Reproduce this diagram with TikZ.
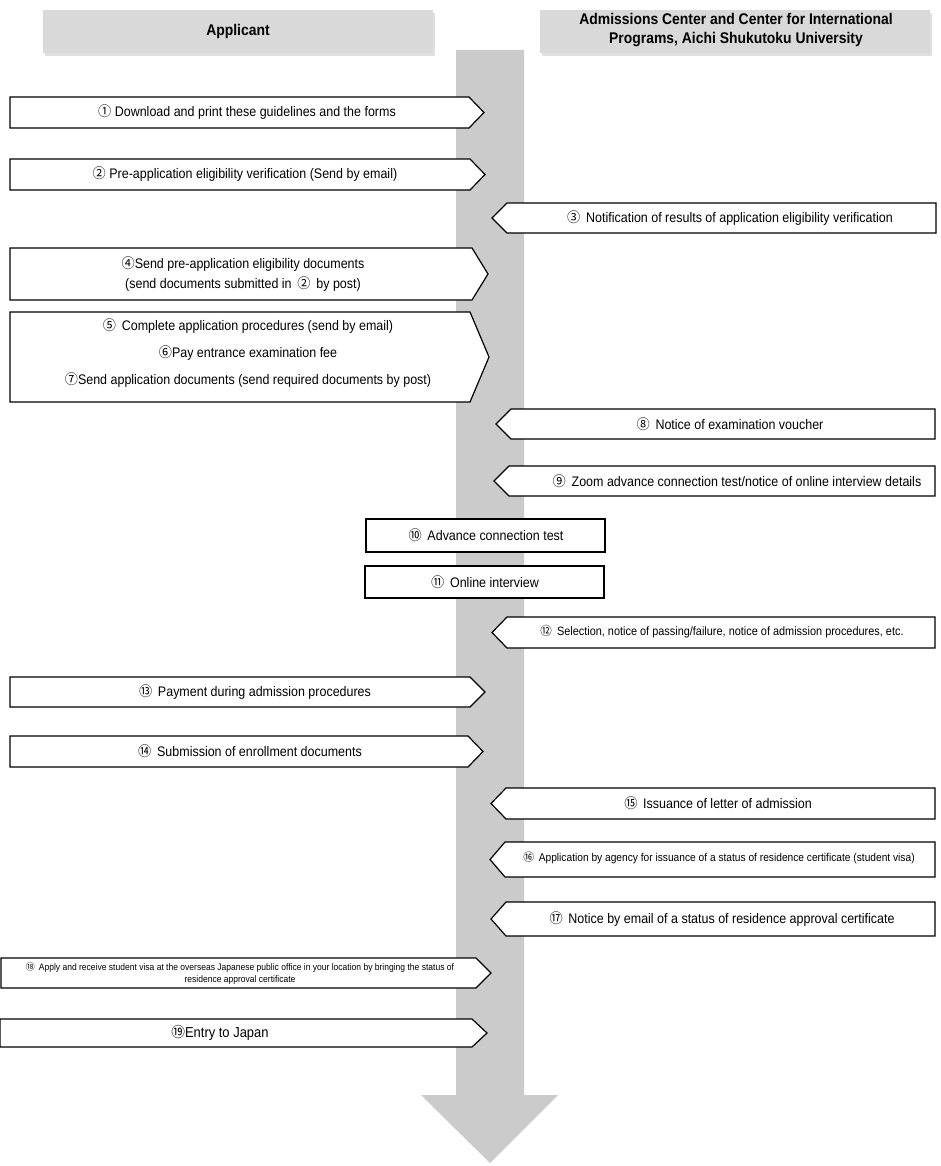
\documentclass[tikz,border=0pt]{standalone}
\usepackage{fontspec}
\setmainfont[FakeStretch=0.9]{Liberation Sans}
\newfontfamily\cjk[FakeStretch=0.95]{Noto Sans CJK JP}
\newcommand{\cn}[1]{{\cjk #1}}
\definecolor{hdr}{HTML}{D9D9D9}
\definecolor{flow}{HTML}{CBCBCB}
\begin{document}
\begin{tikzpicture}[x=0.75pt,y=-0.75pt,
  box/.style={draw=black,line width=0.9pt,fill=white},
  txt/.style={inner sep=0pt,align=center,font=\fontsize{10.4}{15}\selectfont},
  hdrtxt/.style={inner sep=0pt,align=center,font=\fontsize{11.6}{14}\selectfont\bfseries}]
\useasboundingbox (0,0) rectangle (940,1166);
% headers
\fill[black!12] (45,13) rectangle (435,56);
\fill[hdr] (43,10) rectangle (433,53);
\node[hdrtxt] (hA) at (238,32) {Applicant};
\fill[black!12] (542,13) rectangle (932,56);
\fill[hdr] (540,10) rectangle (930,53);
\node[hdrtxt] (hB) at (736,30) {Admissions Center and Center for International\\Programs, Aichi Shukutoku University};
% central flow arrow
\fill[flow] (456,50) -- (524,50) -- (524,1095) -- (558,1095) -- (490,1163) -- (421,1095) -- (456,1095) -- cycle;
% applicant -> boxes
\draw[box] (10,97) -- (469,97) -- (484,112.5) -- (469,128) -- (10,128) -- cycle;
\node[txt] (s1) at (247,112.5) {\cn{①} Download and print these guidelines and the forms};
\draw[box] (10,159) -- (470,159) -- (485,174.5) -- (470,190) -- (10,190) -- cycle;
\node[txt] (s2) at (245,174.5) {\cn{②} Pre-application eligibility verification (Send by email)};
\draw[box] (10,248) -- (472,248) -- (488,274) -- (472,300) -- (10,300) -- cycle;
\node[txt] (s4) at (243,274) {\cn{④}Send pre-application eligibility documents\\(send documents submitted in \,\cn{②}\, by post)};
\draw[box] (10,312) -- (470,312) -- (489,357) -- (470,402) -- (10,402) -- cycle;
\node[txt,font=\fontsize{10.4}{20}\selectfont] (s5) at (248,353) {\cn{⑤}\, Complete application procedures (send by email)\\\cn{⑥}Pay entrance examination fee\\\cn{⑦}Send application documents (send required documents by post)};
\draw[box] (10,677) -- (470,677) -- (485,692) -- (470,707) -- (10,707) -- cycle;
\node[txt] (s13) at (255,692) {\cn{⑬}\, Payment during admission procedures};
\draw[box] (10,736) -- (468,736) -- (483,751.5) -- (468,767) -- (10,767) -- cycle;
\node[txt] (s14) at (250,751.5) {\cn{⑭}\, Submission of enrollment documents};
\draw[box] (1,958) -- (476,958) -- (491,973) -- (476,988) -- (1,988) -- cycle;
\node[txt,font=\fontsize{7.1}{9}\selectfont] (s18) at (240,973) {\cn{⑱}\, Apply and receive student visa at the overseas Japanese public office in your location by bringing the status of\\residence approval certificate};
\draw[box] (0,1019) -- (472,1019) -- (487,1033) -- (472,1047) -- (0,1047) -- cycle;
\node[txt,font=\fontsize{10.8}{12}\selectfont] (s19) at (220,1033) {\cn{⑲}Entry to Japan};
% university <- boxes
\draw[box] (936,203) -- (507,203) -- (492,218) -- (507,233) -- (936,233) -- cycle;
\node[txt] (s3) at (730,218) {\cn{③}\, Notification of results of application eligibility verification};
\draw[box] (935,409) -- (511,409) -- (496,424) -- (511,439) -- (935,439) -- cycle;
\node[txt] (s8) at (730,424) {\cn{⑧}\, Notice of examination voucher};
\draw[box] (935,466) -- (509,466) -- (494,481) -- (509,496) -- (935,496) -- cycle;
\node[txt] (s9) at (737,481) {\cn{⑨}\, Zoom advance connection test/notice of online interview details};
\draw[box] (935,617) -- (507,617) -- (492,632.5) -- (507,648) -- (935,648) -- cycle;
\node[txt,font=\fontsize{9.1}{10}\selectfont] (s12) at (722,632) {\cn{⑫}\, Selection, notice of passing/failure, notice of admission procedures, etc.};
\draw[box] (935,788) -- (506,788) -- (491,803.5) -- (506,819) -- (935,819) -- cycle;
\node[txt] (s15) at (718,803.5) {\cn{⑮}\, Issuance of letter of admission};
\draw[box] (935,842) -- (505,842) -- (490,859.5) -- (505,877) -- (935,877) -- cycle;
\node[txt,font=\fontsize{8.5}{10}\selectfont] (s16) at (719,858) {\cn{⑯}\, Application by agency for issuance of a status of residence certificate (student visa)};
\draw[box] (935,902) -- (506,902) -- (491,919) -- (506,936) -- (935,936) -- cycle;
\node[txt] (s17) at (722,919) {\cn{⑰}\, Notice by email of a status of residence approval certificate};
% plain boxes
\draw[box] (366,519) rectangle (605,552);
\node[txt] (s10) at (486,535.5) {\cn{⑩}\, Advance connection test};
\draw[box] (365,566) rectangle (604,598);
\node[txt] (s11) at (485,582) {\cn{⑪}\, Online interview};
\end{tikzpicture}
\end{document}
